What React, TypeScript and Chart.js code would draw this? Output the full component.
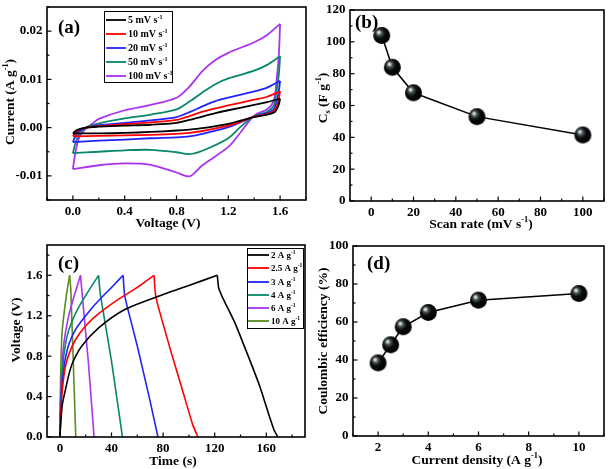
import React, { useEffect, useRef } from 'react';
import { Chart, registerables } from 'chart.js';

Chart.register(...registerables);

const FONT = '"Liberation Serif", "Times New Roman", serif';

// ---------- Panel (a): cyclic voltammetry ----------
const cvLabels = ['5 mV s^{-1}', '10 mV s^{-1}', '20 mV s^{-1}', '50 mV s^{-1}', '100 mV s^{-1}'];
const cvColors = ['#000000', '#ff0000', '#2222ff', '#08876a', '#aa33ee'];
const cvXTicks = [0, 0.4, 0.8, 1.2, 1.6];
const cvYTicks = [-0.01, 0, 0.01, 0.02];
const cvVFwd = [0, 0.02, 0.05, 0.1, 0.15, 0.2, 0.4, 0.6, 0.8, 0.9, 1.0, 1.1, 1.2, 1.4, 1.5, 1.6];
const cv5Fwd = [-0.0012, -0.0007, -0.0003, 0.0, 0.0001, 0.0002, 0.0004, 0.0006, 0.001, 0.0016, 0.0023, 0.003, 0.0036, 0.0047, 0.0053, 0.006];
const cv10Fwd = [-0.0018, -0.0011, -0.0004, 0.0, 0.0002, 0.0003, 0.0007, 0.0011, 0.0016, 0.0024, 0.0033, 0.004, 0.0046, 0.0058, 0.0064, 0.0075];
const cv20Fwd = [-0.003, -0.0018, -0.0007, 0.0, 0.0003, 0.0005, 0.001, 0.0015, 0.0022, 0.0032, 0.0044, 0.0055, 0.0062, 0.0075, 0.0083, 0.0097];
const cv50Fwd = [-0.0053, -0.0032, -0.0013, 0.0, 0.0005, 0.0009, 0.0019, 0.0027, 0.0038, 0.0054, 0.0073, 0.009, 0.0102, 0.0118, 0.013, 0.0148];
const cv100Fwd = [-0.0086, -0.005, -0.002, -0.0002, 0.0008, 0.0018, 0.0036, 0.0047, 0.0062, 0.0085, 0.0117, 0.014, 0.0155, 0.0177, 0.0192, 0.0215];
const cvVRev = [1.6, 1.59, 1.57, 1.55, 1.5, 1.4, 1.3, 1.2, 1.0, 0.9, 0.8, 0.6, 0.4, 0.2, 0];
const cv5Rev = [0.006, 0.0048, 0.0036, 0.0031, 0.0027, 0.0022, 0.0015, 0.0008, -0.0001, -0.0004, -0.0006, -0.0009, -0.0011, -0.0012, -0.0012];
const cv10Rev = [0.0075, 0.006, 0.0042, 0.0034, 0.0028, 0.0023, 0.0013, 0.0004, -0.0007, -0.0011, -0.0013, -0.0015, -0.0016, -0.0017, -0.0018];
const cv20Rev = [0.0097, 0.0075, 0.005, 0.0038, 0.003, 0.0023, 0.0012, 0.0001, -0.0013, -0.0018, -0.002, -0.0022, -0.0025, -0.0027, -0.003];
const cv50Rev = [0.0148, 0.011, 0.007, 0.0045, 0.0033, 0.0024, 0.0003, -0.0022, -0.0048, -0.0055, -0.0051, -0.0046, -0.0047, -0.005, -0.0053];
const cv100Rev = [0.0215, 0.015, 0.009, 0.0055, 0.0038, 0.0025, -0.0008, -0.004, -0.0078, -0.0101, -0.0093, -0.0077, -0.0074, -0.0078, -0.0086];
const cvFwd = [cv5Fwd, cv10Fwd, cv20Fwd, cv50Fwd, cv100Fwd];
const cvRev = [cv5Rev, cv10Rev, cv20Rev, cv50Rev, cv100Rev];

// ---------- Panel (b): capacitance vs scan rate ----------
const scanRates = [5, 10, 20, 50, 100];
const capacitance = [104, 84, 68, 53, 41.5];
const bXTicks = [0, 20, 40, 60, 80, 100];
const bYTicks = [0, 20, 40, 60, 80, 100, 120];

// ---------- Panel (c): galvanostatic charge/discharge ----------
const gcdLabels = ['2 A g^{-1}', '2.5 A g^{-1}', '3 A g^{-1}', '4 A g^{-1}', '6 A g^{-1}', '10 A g^{-1}'];
const gcdColors = ['#000000', '#ff0000', '#2222ff', '#08876a', '#aa33ee', '#5a8c20'];
const cXTicks = [0, 40, 80, 120, 160];
const cYTicks = [0, 0.4, 0.8, 1.2, 1.6];
const gcd2ChT = [0, 1, 2, 4, 7, 10, 17, 30, 50, 80, 100, 122];
const gcd2ChV = [0, 0.2, 0.33, 0.45, 0.62, 0.74, 0.9, 1.08, 1.26, 1.41, 1.5, 1.6];
const gcd2DisT = [122, 123, 125, 128, 136, 146, 155, 162, 166, 169];
const gcd2DisV = [1.6, 1.48, 1.41, 1.33, 1.12, 0.8, 0.5, 0.22, 0.07, 0];
const gcd25ChT = [0, 1, 2, 4, 7, 12, 20, 30, 45, 60, 73];
const gcd25ChV = [0, 0.3, 0.48, 0.68, 0.82, 0.96, 1.1, 1.22, 1.36, 1.48, 1.6];
const gcd25DisT = [73, 74, 76, 86, 96, 103, 107];
const gcd25DisV = [1.6, 1.42, 1.3, 0.85, 0.42, 0.12, 0];
const gcd3ChT = [0, 1, 2, 4, 7, 12, 20, 30, 40, 49];
const gcd3ChV = [0, 0.38, 0.55, 0.76, 0.92, 1.06, 1.2, 1.35, 1.48, 1.6];
const gcd3DisT = [49, 50, 52, 60, 70, 76];
const gcd3DisV = [1.6, 1.42, 1.3, 0.9, 0.35, 0];
const gcd4ChT = [0, 0.5, 1.5, 3, 6, 12, 20, 30];
const gcd4ChV = [0, 0.3, 0.55, 0.8, 1.02, 1.22, 1.4, 1.6];
const gcd4DisT = [30, 31, 32, 40, 48.5];
const gcd4DisV = [1.6, 1.45, 1.36, 0.75, 0];
const gcd6ChT = [0, 0.5, 1.5, 3, 6, 10, 16];
const gcd6ChV = [0, 0.35, 0.65, 0.92, 1.15, 1.35, 1.6];
const gcd6DisT = [16, 17, 22, 26.5];
const gcd6DisV = [1.6, 1.45, 0.75, 0];
const gcd10ChT = [0, 0.5, 1.5, 3, 5, 7.5];
const gcd10ChV = [0, 0.55, 1.0, 1.2, 1.4, 1.6];
const gcd10DisT = [7.5, 8.5, 12.3];
const gcd10DisV = [1.6, 1.45, 0];
const gcdCharge = [[gcd2ChT, gcd2ChV], [gcd25ChT, gcd25ChV], [gcd3ChT, gcd3ChV], [gcd4ChT, gcd4ChV], [gcd6ChT, gcd6ChV], [gcd10ChT, gcd10ChV]];
const gcdDischarge = [[gcd2DisT, gcd2DisV], [gcd25DisT, gcd25DisV], [gcd3DisT, gcd3DisV], [gcd4DisT, gcd4DisV], [gcd6DisT, gcd6DisV], [gcd10DisT, gcd10DisV]];

// ---------- Panel (d): coulombic efficiency ----------
const currentDensity = [2, 2.5, 3, 4, 6, 10];
const efficiency = [38.5, 48, 57.5, 65, 71.5, 75];
const dXTicks = [2, 4, 6, 8, 10];
const dYTicks = [0, 20, 40, 60, 80, 100];

// ---------- helpers ----------
type Seg = { t: string; k: number };
function parseRich(s: string): Seg[] {
  const out: Seg[] = [];
  const re = /\^\{([^}]*)\}|_\{([^}]*)\}/g;
  let last = 0;
  let m: RegExpExecArray | null;
  while ((m = re.exec(s))) {
    if (m.index > last) out.push({ t: s.slice(last, m.index), k: 0 });
    if (m[1] !== undefined) out.push({ t: m[1], k: 1 });
    else out.push({ t: m[2], k: 2 });
    last = re.lastIndex;
  }
  if (last < s.length) out.push({ t: s.slice(last), k: 0 });
  return out;
}

function drawRich(ctx: CanvasRenderingContext2D, s: string, x: number, y: number, size: number, align: string, rot = 0) {
  const segs = parseRich(s);
  ctx.save();
  ctx.translate(x, y);
  if (rot) ctx.rotate(rot);
  const fontOf = (k: number) => `bold ${k ? size * 0.62 : size}px ${FONT}`;
  let total = 0;
  const widths = segs.map((sg) => {
    ctx.font = fontOf(sg.k);
    const w = ctx.measureText(sg.t).width;
    total += w;
    return w;
  });
  let cx = align === 'center' ? -total / 2 : 0;
  ctx.textAlign = 'left';
  ctx.textBaseline = 'alphabetic';
  ctx.fillStyle = '#000';
  const base = size * 0.34;
  segs.forEach((sg, i) => {
    ctx.font = fontOf(sg.k);
    const dy = sg.k === 1 ? -size * 0.42 : sg.k === 2 ? size * 0.25 : 0;
    ctx.fillText(sg.t, cx, base + dy);
    cx += widths[i];
  });
  ctx.restore();
}

function makeSphere(r: number) {
  const c = document.createElement('canvas');
  const s = Math.ceil(r * 2) + 2;
  c.width = s;
  c.height = s;
  const g = c.getContext('2d')!;
  const cx = s / 2;
  const cy = s / 2;
  const grad = g.createRadialGradient(cx - r * 0.38, cy - r * 0.4, 0, cx - r * 0.15, cy - r * 0.15, r * 1.15);
  grad.addColorStop(0, '#ffffff');
  grad.addColorStop(0.1, '#c4d4d8');
  grad.addColorStop(0.28, '#4a5254');
  grad.addColorStop(0.55, '#0c0c0c');
  grad.addColorStop(1, '#000000');
  g.fillStyle = grad;
  g.beginPath();
  g.arc(cx, cy, r, 0, Math.PI * 2);
  g.fill();
  return c;
}

type AxisCfg = { min: number; max: number; ticks: number[]; minor: number; fmt: (v: number) => string; title: string; tx: number; ty: number };
type LegendCfg = { box: number[]; items: { text: string; color: string }[]; lineX: number[]; textX: number; rows: number[]; font: number };
type PanelCfg = {
  W: number;
  H: number;
  area: { l: number; t: number; r: number; b: number };
  x: AxisCfg;
  y: AxisCfg;
  datasets: any[];
  label: string;
  labelPos: number[];
  legend?: LegendCfg;
};

function makePanelPlugin(cfg: PanelCfg) {
  return {
    id: 'panelDecor',
    afterDraw(chart: any) {
      const ctx: CanvasRenderingContext2D = chart.ctx;
      const { left: l, right: r, top: t, bottom: b } = chart.chartArea;
      const xs = chart.scales.x;
      const ys = chart.scales.y;
      ctx.save();
      // frame
      ctx.strokeStyle = '#000';
      ctx.lineWidth = 1.6;
      ctx.strokeRect(l, t, r - l, b - t);
      // ticks (inward)
      ctx.lineWidth = 1.2;
      const majorsX = xs.ticks.map((tk: any) => tk.value);
      const majorsY = ys.ticks.map((tk: any) => tk.value);
      const isMajor = (v: number, arr: number[], eps: number) => arr.some((a) => Math.abs(a - v) < eps);
      const drawTicks = (ax: AxisCfg, majors: number[], scale: any, horiz: boolean) => {
        const n0 = Math.ceil(ax.min / ax.minor - 1e-9);
        const n1 = Math.floor(ax.max / ax.minor + 1e-9);
        for (let n = n0; n <= n1; n++) {
          const v = n * ax.minor;
          const px = scale.getPixelForValue(v);
          const maj = isMajor(v, majors, ax.minor * 0.01);
          const len = maj ? 4.5 : 2.5;
          ctx.beginPath();
          if (horiz) {
            ctx.moveTo(px, b);
            ctx.lineTo(px, b - len);
          } else {
            ctx.moveTo(l, px);
            ctx.lineTo(l + len, px);
          }
          ctx.stroke();
        }
      };
      drawTicks(cfg.x, majorsX, xs, true);
      drawTicks(cfg.y, majorsY, ys, false);
      // tick labels
      ctx.fillStyle = '#000';
      ctx.font = `bold 13px ${FONT}`;
      ctx.textAlign = 'center';
      ctx.textBaseline = 'middle';
      majorsX.forEach((v: number) => ctx.fillText(cfg.x.fmt(v), xs.getPixelForValue(v), b + 12));
      ctx.textAlign = 'right';
      majorsY.forEach((v: number) => ctx.fillText(cfg.y.fmt(v), l - 4.5, ys.getPixelForValue(v)));
      // titles
      drawRich(ctx, cfg.x.title, cfg.x.tx, cfg.x.ty, 13.5, 'center');
      drawRich(ctx, cfg.y.title, cfg.y.tx, cfg.y.ty, 13.5, 'center', -Math.PI / 2);
      // panel label
      drawRich(ctx, cfg.label, cfg.labelPos[0], cfg.labelPos[1], 19, 'left');
      // legend
      if (cfg.legend) {
        const lg = cfg.legend;
        ctx.lineWidth = 1;
        ctx.strokeStyle = '#000';
        ctx.strokeRect(lg.box[0] + 0.5, lg.box[1] + 0.5, lg.box[2] - lg.box[0], lg.box[3] - lg.box[1]);
        lg.items.forEach((it, i) => {
          const yy = lg.rows[i];
          ctx.strokeStyle = it.color;
          ctx.lineWidth = 1.8;
          ctx.beginPath();
          ctx.moveTo(lg.lineX[0], yy);
          ctx.lineTo(lg.lineX[1], yy);
          ctx.stroke();
          drawRich(ctx, it.text, lg.textX, yy, lg.font, 'left');
        });
      }
      ctx.restore();
    },
  };
}

function buildChart(canvas: HTMLCanvasElement, cfg: PanelCfg) {
  const { W, H, area } = cfg;
  const scaleOpts = (ax: AxisCfg, isX: boolean) => ({
    type: 'linear',
    min: ax.min,
    max: ax.max,
    afterBuildTicks: (s: any) => {
      s.ticks = ax.ticks.map((v) => ({ value: v }));
    },
    afterFit: (s: any) => {
      if (isX) s.height = H - area.b;
      else s.width = area.l;
    },
    ticks: { display: false },
    grid: { display: false, drawTicks: false },
    border: { display: false },
  });
  return new Chart(canvas, {
    type: 'line',
    data: { datasets: cfg.datasets },
    options: {
      responsive: false,
      animation: false,
      events: [],
      layout: { padding: { left: 0, top: area.t, right: W - area.r, bottom: 0 } },
      plugins: { legend: { display: false }, tooltip: { enabled: false } },
      scales: { x: scaleOpts(cfg.x, true) as any, y: scaleOpts(cfg.y, false) as any },
    },
    plugins: [makePanelPlugin(cfg) as any],
  } as any);
}

const toPts = (xs: number[], ys: number[]) => xs.map((x, i) => ({ x, y: ys[i] }));
const intFmt = (v: number) => String(Math.round(v));

function cfgA(): PanelCfg {
  const datasets: any[] = [];
  cvLabels.forEach((lab, i) => {
    const base = { borderColor: cvColors[i], borderWidth: 1.8, pointRadius: 0, tension: 0.3, fill: false, label: lab };
    datasets.push({ ...base, data: toPts(cvVFwd, cvFwd[i]) });
    datasets.push({ ...base, data: toPts(cvVRev, cvRev[i]) });
  });
  return {
    W: 310,
    H: 232,
    area: { l: 47, t: 7, r: 306, b: 200 },
    x: { min: -0.2, max: 1.8, ticks: cvXTicks, minor: 0.2, fmt: (v) => v.toFixed(1), title: 'Voltage (V)', tx: 168, ty: 222 },
    y: { min: -0.015, max: 0.025, ticks: cvYTicks, minor: 0.005, fmt: (v) => (Math.abs(v) < 1e-9 ? '0.00' : v.toFixed(2)), title: 'Current (A g^{-1})', tx: 9, ty: 102 },
    datasets,
    label: '(a)',
    labelPos: [58, 27],
    legend: {
      box: [104, 11, 172, 82],
      items: cvLabels.map((t, i) => ({ text: t, color: cvColors[i] })),
      lineX: [106, 126],
      textX: 128,
      rows: [20, 34, 48, 62, 76],
      font: 10,
    },
  };
}

function cfgB(sphere: HTMLCanvasElement): PanelCfg {
  return {
    W: 304,
    H: 232,
    area: { l: 40, t: 6, r: 302, b: 201 },
    x: { min: -10, max: 110, ticks: bXTicks, minor: 10, fmt: intFmt, title: 'Scan rate (mV s^{-1})', tx: 171, ty: 223 },
    y: { min: 0, max: 120, ticks: bYTicks, minor: 10, fmt: intFmt, title: 'C_{s} (F g^{-1})', tx: 12, ty: 98 },
    datasets: [
      {
        data: toPts(scanRates, capacitance),
        borderColor: '#000',
        borderWidth: 1.5,
        pointStyle: sphere,
        pointRadius: 8.5,
        tension: 0,
        fill: false,
      },
    ],
    label: '(b)',
    labelPos: [45, 22],
  };
}

function cfgC(): PanelCfg {
  const datasets: any[] = [];
  gcdLabels.forEach((lab, i) => {
    const base = { borderColor: gcdColors[i], borderWidth: 1.6, pointRadius: 0, fill: false, label: lab };
    datasets.push({ ...base, tension: 0.3, data: toPts(gcdCharge[i][0], gcdCharge[i][1]) });
    datasets.push({ ...base, tension: 0.15, data: toPts(gcdDischarge[i][0], gcdDischarge[i][1]) });
  });
  return {
    W: 310,
    H: 237,
    area: { l: 47, t: 13, r: 305, b: 205 },
    x: { min: -10, max: 190, ticks: cXTicks, minor: 20, fmt: intFmt, title: 'Time (s)', tx: 173, ty: 228 },
    y: { min: 0, max: 1.9, ticks: cYTicks, minor: 0.2, fmt: (v) => v.toFixed(1), title: 'Voltage (V)', tx: 15, ty: 98 },
    datasets,
    label: '(c)',
    labelPos: [58, 31],
    legend: {
      box: [247, 16, 303, 96],
      items: gcdLabels.map((t, i) => ({ text: t, color: gcdColors[i] })),
      lineX: [248, 269],
      textX: 271,
      rows: [23, 36, 50, 63, 76, 89],
      font: 9,
    },
  };
}

function cfgD(sphere: HTMLCanvasElement): PanelCfg {
  return {
    W: 304,
    H: 237,
    area: { l: 43, t: 14, r: 302, b: 204 },
    x: { min: 1, max: 11, ticks: dXTicks, minor: 1, fmt: intFmt, title: 'Current density (A g^{-1})', tx: 167, ty: 227 },
    y: { min: 0, max: 100, ticks: dYTicks, minor: 10, fmt: intFmt, title: 'Coulombic efficiency (%)', tx: 12, ty: 109 },
    datasets: [
      {
        data: toPts(currentDensity, efficiency),
        borderColor: '#000',
        borderWidth: 1.5,
        pointStyle: sphere,
        pointRadius: 8.5,
        tension: 0,
        fill: false,
      },
    ],
    label: '(d)',
    labelPos: [57, 31],
  };
}

export default function App() {
  const refA = useRef<HTMLCanvasElement>(null);
  const refB = useRef<HTMLCanvasElement>(null);
  const refC = useRef<HTMLCanvasElement>(null);
  const refD = useRef<HTMLCanvasElement>(null);

  useEffect(() => {
    const sphere = makeSphere(8.5);
    const charts = [
      buildChart(refA.current!, cfgA()),
      buildChart(refB.current!, cfgB(sphere)),
      buildChart(refC.current!, cfgC()),
      buildChart(refD.current!, cfgD(sphere)),
    ];
    return () => charts.forEach((c) => c.destroy());
  }, []);

  const cs = (left: number, top: number, w: number, h: number): React.CSSProperties => ({
    position: 'absolute',
    left,
    top,
    width: w,
    height: h,
  });

  return (
    <div style={{ position: 'absolute', left: 0, top: 0, width: 614, height: 469, background: '#fff' }}>
      <canvas ref={refA} width={310} height={232} style={cs(0, 0, 310, 232)} />
      <canvas ref={refB} width={304} height={232} style={cs(310, 0, 304, 232)} />
      <canvas ref={refC} width={310} height={237} style={cs(0, 232, 310, 237)} />
      <canvas ref={refD} width={304} height={237} style={cs(310, 232, 304, 237)} />
    </div>
  );
}
